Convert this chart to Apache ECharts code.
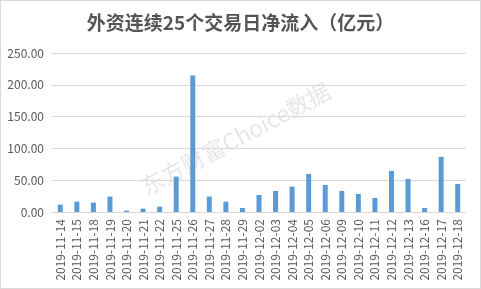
<!DOCTYPE html>
<html><head><meta charset="utf-8">
<script src="https://cdn.jsdelivr.net/npm/echarts@6/dist/echarts.min.js"></script>
<style>html,body{margin:0;padding:0;background:#fff}#c{width:479px;height:287px;border:1px solid #d9d9d9}</style>
</head><body><div id="c"></div>
<script>
const title = '外资连续25个交易日净流入（亿元）';
const categories = ['2019-11-14','2019-11-15','2019-11-18','2019-11-19','2019-11-20','2019-11-21','2019-11-22','2019-11-25','2019-11-26','2019-11-27','2019-11-28','2019-11-29','2019-12-02','2019-12-03','2019-12-04','2019-12-05','2019-12-06','2019-12-09','2019-12-10','2019-12-11','2019-12-12','2019-12-13','2019-12-16','2019-12-17','2019-12-18'];
const values = [11.6,16.3,14.7,24.2,2.1,5.3,8.4,55.7,214.8,24.2,16.3,6.3,26.8,33.1,39.9,59.9,42.5,33.1,28.4,22.1,64.6,52.0,6.3,86.7,44.1];
const yTicks = [0,50,100,150,200,250];
const watermark = '东方财富Choice数据';

const chart = echarts.init(document.getElementById('c'));
chart.setOption({
  animation:false,
  title:{text:title,left:'center',top:7,textStyle:{fontFamily:'Noto Sans CJK SC',fontSize:19,fontWeight:'bold',color:'#555555'}},
  grid:{left:51,right:14,top:52,bottom:76},
  xAxis:{type:'category',data:categories,
    axisLine:{lineStyle:{color:'#d9d9d9'}},axisTick:{show:false},
    axisLabel:{rotate:90,interval:0,color:'#595959',fontSize:12,fontFamily:'Noto Sans CJK SC',margin:7}},
  yAxis:{type:'value',min:yTicks[0],max:yTicks[yTicks.length-1],interval:50,
    axisLine:{show:false},axisTick:{show:false},
    splitLine:{lineStyle:{color:'#d9d9d9'}},
    axisLabel:{color:'#595959',fontSize:12,fontFamily:'Noto Sans CJK SC',margin:8,formatter:v=>v.toFixed(2)}},
  graphic:[{type:'text',left:136,top:78,rotation:0.49,
    style:{text:watermark,fontSize:23,fontFamily:'Noto Sans CJK SC',fill:'rgba(195,195,195,0.4)'}}],
  series:[{type:'bar',data:values,barWidth:5,itemStyle:{color:'#5B9BD5'}}]
});
</script></body></html>
